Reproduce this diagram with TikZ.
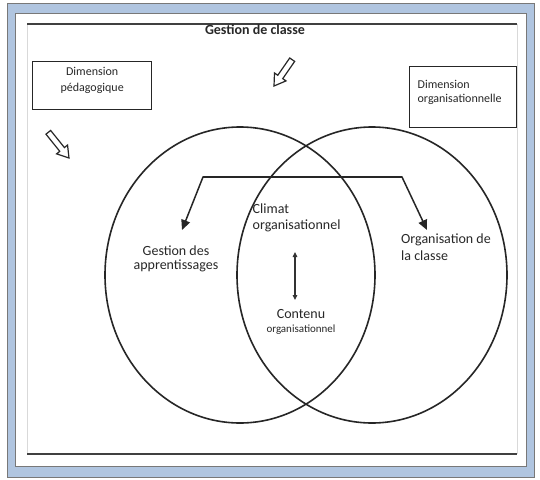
\documentclass[tikz,border=0pt]{standalone}
\usepackage{fontspec}
\setmainfont{Carlito}
\usetikzlibrary{arrows.meta}
\definecolor{frameblue}{RGB}{176,197,224}
\definecolor{framegray}{RGB}{120,120,120}
\definecolor{txt}{RGB}{40,40,40}
\tikzset{
  mainfont/.style={font=\fontsize{14}{14}\selectfont, text=txt, inner sep=0pt},
  boxtext/.style={font=\fontsize{12}{14}\selectfont, text=txt},
  dimbox/.style={draw=black!85, line width=1.3pt, inner sep=0pt, boxtext},
  venn/.style={draw=black!85, line width=1.6pt},
  hollow/.style={draw=black!85, line width=1.2pt, fill=white, line join=miter},
  link/.style={draw=black!85, line width=1.5pt, -{Triangle[length=10pt,width=9pt]}},
  dlink/.style={draw=black!80, line width=1.1pt, {Triangle[length=5pt,width=4.5pt]}-{Triangle[length=5pt,width=4.5pt]}}
}
\begin{document}
\begin{tikzpicture}[x=1pt,y=-1pt]
\useasboundingbox (0,0) rectangle (540,479);
% frames
\fill[white] (0,0) rectangle (540,479);
\draw[fill=frameblue, draw=framegray, line width=0.8pt] (7,3) rectangle (534,477);
\draw[fill=white, draw=framegray, line width=1pt] (15,13) rectangle (526,466);
\draw[black!15, line width=0.9pt] (27,24) -- (27,454) (517,24) -- (517,454);
\draw[black!75, line width=1.4pt] (27,24) -- (517,24);
\draw[black!75, line width=1.4pt] (27,454) -- (517,454);
% title
\node[mainfont, font=\fontsize{14}{14}\selectfont\bfseries, anchor=base] (title) at (255,34) {Gestion de classe};
% boxes
\node[dimbox, font=\fontsize{12}{16}\selectfont, anchor=north west] (dped) at (32,61)
  {\parbox[c][48pt][t]{119pt}{\centering\rule{0pt}{14pt}Dimension\\pédagogique}};
\node[dimbox, anchor=north west] (dorg) at (409,66)
  {\parbox[c][61pt][t]{107pt}{\raggedright\hspace*{8pt}\rule{0pt}{21.5pt}Dimension\\\hspace*{8pt}organisationnelle}};
% hollow arrows
\draw[hollow] (274,86) -- (286.0,80.9) -- (282.73,78.66) -- (294.67,61.41) -- (289.73,57.99) -- (277.79,75.24) -- (274.5,73.0) -- cycle;
\draw[hollow] (69,158) -- (67.54,145.04) -- (64.42,147.56) -- (50.63,130.42) -- (45.97,134.18) -- (59.76,151.32) -- (56.64,153.84) -- cycle;
% ellipses
\draw[venn] (240,275) ellipse [x radius=135pt, y radius=148pt];
\draw[venn] (372,275) ellipse [x radius=135pt, y radius=148pt];
% texts
\node[mainfont, anchor=north, align=center] (gda) at (176,244) {\rule{0pt}{11pt}Gestion des\\apprentissages};
\node[mainfont, font=\fontsize{14}{17}\selectfont, anchor=north west, align=left] (orgc) at (401,232) {\rule{0pt}{11pt}Organisation de\\la classe};
\node[mainfont, font=\fontsize{14}{16.5}\selectfont, anchor=north west, align=left] (clim) at (252.5,202) {\rule{0pt}{11pt}Climat\\organisationnel};
\node[mainfont, font=\fontsize{14}{14.7}\selectfont, anchor=north, align=center] (cont) at (301,307) {\rule{0pt}{11pt}Contenu\\{\fontsize{11}{14.7}\selectfont organisationnel}};
% connectors
\coordinate (jl) at (203,177);
\coordinate (jr) at (402,177);
\coordinate (tl) at (182,230);
\coordinate (tr) at (427,230);
\draw[link] (jl) -- (tl);
\draw[link] (jr) -- (tr);
\draw[black!85, line width=1.5pt, line cap=round] (jl) -- (jr);
\coordinate (da) at (295,252);
\coordinate (db) at (295,300);
\draw[dlink] (da) -- (db);
\end{tikzpicture}
\end{document}
